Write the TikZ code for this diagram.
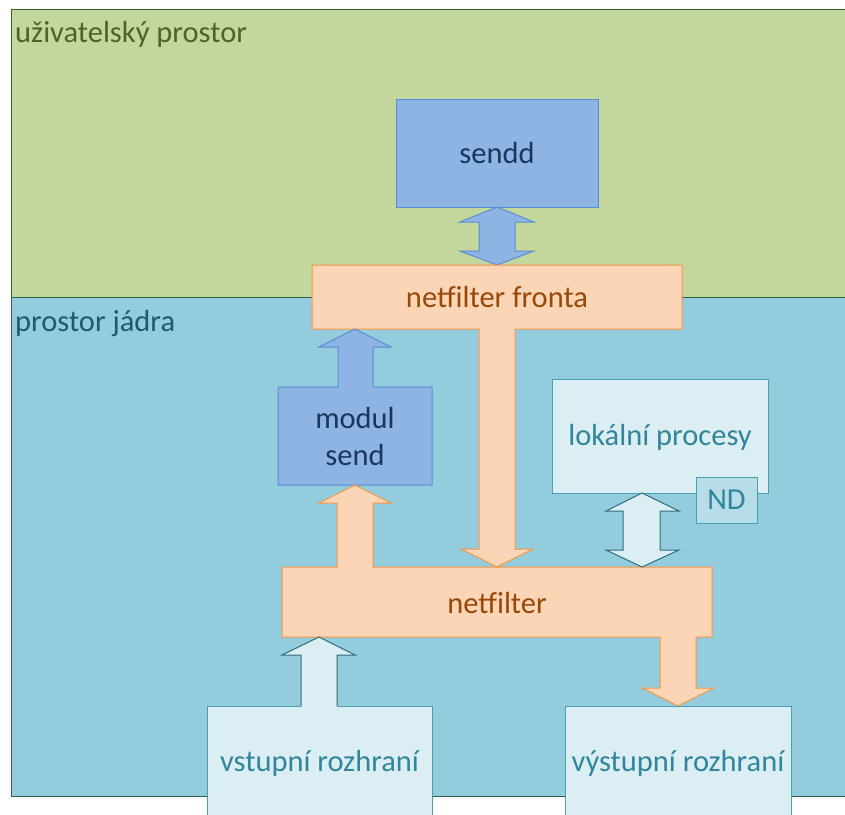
\documentclass[tikz,border=0pt]{standalone}
\usepackage{fontspec}
\setmainfont{Carlito}
\definecolor{greenbg}{HTML}{C3D69B}
\definecolor{greenline}{HTML}{3B5E2B}
\definecolor{greentext}{HTML}{4F6228}
\definecolor{bluebg}{HTML}{93CDDD}
\definecolor{blueline}{HTML}{31604E}
\definecolor{kerneltext}{HTML}{215968}
\definecolor{sendfill}{HTML}{8EB4E3}
\definecolor{sendline}{HTML}{558ED5}
\definecolor{navytext}{HTML}{17375E}
\definecolor{peach}{HTML}{FBD5B5}
\definecolor{orangeline}{HTML}{F79646}
\definecolor{browntext}{HTML}{984807}
\definecolor{lightfill}{HTML}{DBEEF4}
\definecolor{lightline}{HTML}{4A9FB5}
\definecolor{arrowline}{HTML}{2D6E7E}
\definecolor{tealtext}{HTML}{31859C}
\definecolor{ndfill}{HTML}{B7DEE8}
\tikzset{
  lbl/.style={font=\fontsize{30.5}{37}\selectfont, inner sep=0pt, align=center},
  bluepart/.style={fill=sendfill, draw=sendline, line width=1pt, line join=miter},
  peachpart/.style={fill=peach, draw=orangeline, line width=1pt, line join=miter},
  lightbox/.style={fill=lightfill, draw=lightline, line width=1pt},
  lightarrow/.style={fill=lightfill, draw=arrowline, line width=1pt, line join=miter},
}
\begin{document}
\begin{tikzpicture}[x=1pt,y=-1pt]
\useasboundingbox (0,0) rectangle (845,814);
% regions
\fill[white] (0,0) rectangle (845,814);
\draw[fill=greenbg, draw=greenline, line width=1pt] (11,9) rectangle (847,297);
\draw[fill=bluebg, draw=blueline, line width=1pt] (11,297) rectangle (847,796);
\node[lbl, anchor=base west, text=greentext] (userlbl) at (15,42) {uživatelský prostor};
\node[lbl, anchor=base west, text=kerneltext] (kernellbl) at (15,331) {prostor jádra};

% sendd
\draw[bluepart] (396,99) rectangle (598,207);
\node[lbl, text=navytext] (sendd) at (497,153) {sendd};
% double arrow sendd <-> fronta
\draw[bluepart] (497,207) -- (534,222) -- (515,222) -- (515,251) -- (534,251) -- (497,265)
  -- (460,251) -- (479,251) -- (479,222) -- (460,222) -- cycle;

% netfilter fronta with down arrow
\draw[peachpart] (312,265) -- (682,265) -- (682,329) -- (515,329) -- (515,549) -- (533,549)
  -- (497,567) -- (461,549) -- (479,549) -- (479,329) -- (312,329) -- cycle;
\node[lbl, text=browntext] (fronta) at (497,297) {netfilter fronta};

% modul send with up arrow
\draw[bluepart] (278,387) -- (338,387) -- (338,347) -- (319,347) -- (355,329) -- (391,347)
  -- (373,347) -- (373,387) -- (432,387) -- (432,485) -- (278,485) -- cycle;
\node[lbl, text=navytext] (modul) at (355,437) {modul\\send};

% netfilter with arrows
\draw[peachpart] (282,567) -- (337,567) -- (337,503) -- (319,503) -- (355,485) -- (391,503)
  -- (373,503) -- (373,567) -- (712,567) -- (712,637) -- (696,637) -- (696,688) -- (714,688)
  -- (678,706) -- (642,688) -- (660,688) -- (660,637) -- (282,637) -- cycle;
\node[lbl, text=browntext] (netfilter) at (497,603) {netfilter};

% lokalni procesy
\draw[lightbox] (552,379) rectangle (768,493);
\node[lbl, text=tealtext] (lokalni) at (660,437) {lokální procesy};
\draw[lightbox, fill=ndfill] (696,477) rectangle (757,523);
\node[lbl, text=tealtext] (nd) at (726.5,500) {ND};
\draw[lightarrow] (642,493) -- (679,511) -- (660,511) -- (660,550) -- (679,550) -- (642,567)
  -- (606,550) -- (623,550) -- (623,511) -- (606,511) -- cycle;

% vstupni rozhrani
\draw[lightbox] (207,830) -- (207,706) -- (432,706) -- (432,830);
\fill[lightfill] (301,707) -- (301,655) -- (282,655) -- (319,637) -- (355,655) -- (337,655) -- (337,707) -- cycle;
\draw[lightarrow, fill=none] (301,706) -- (301,655) -- (282,655) -- (319,637) -- (355,655) -- (337,655) -- (337,706);
\node[lbl, text=tealtext] (vstup) at (319.5,763) {vstupní rozhraní};

% vystupni rozhrani
\draw[lightbox] (565,830) -- (565,706) -- (791,706) -- (791,830);
\node[lbl, text=tealtext] (vystup) at (678,763) {výstupní rozhraní};
\end{tikzpicture}
\end{document}
